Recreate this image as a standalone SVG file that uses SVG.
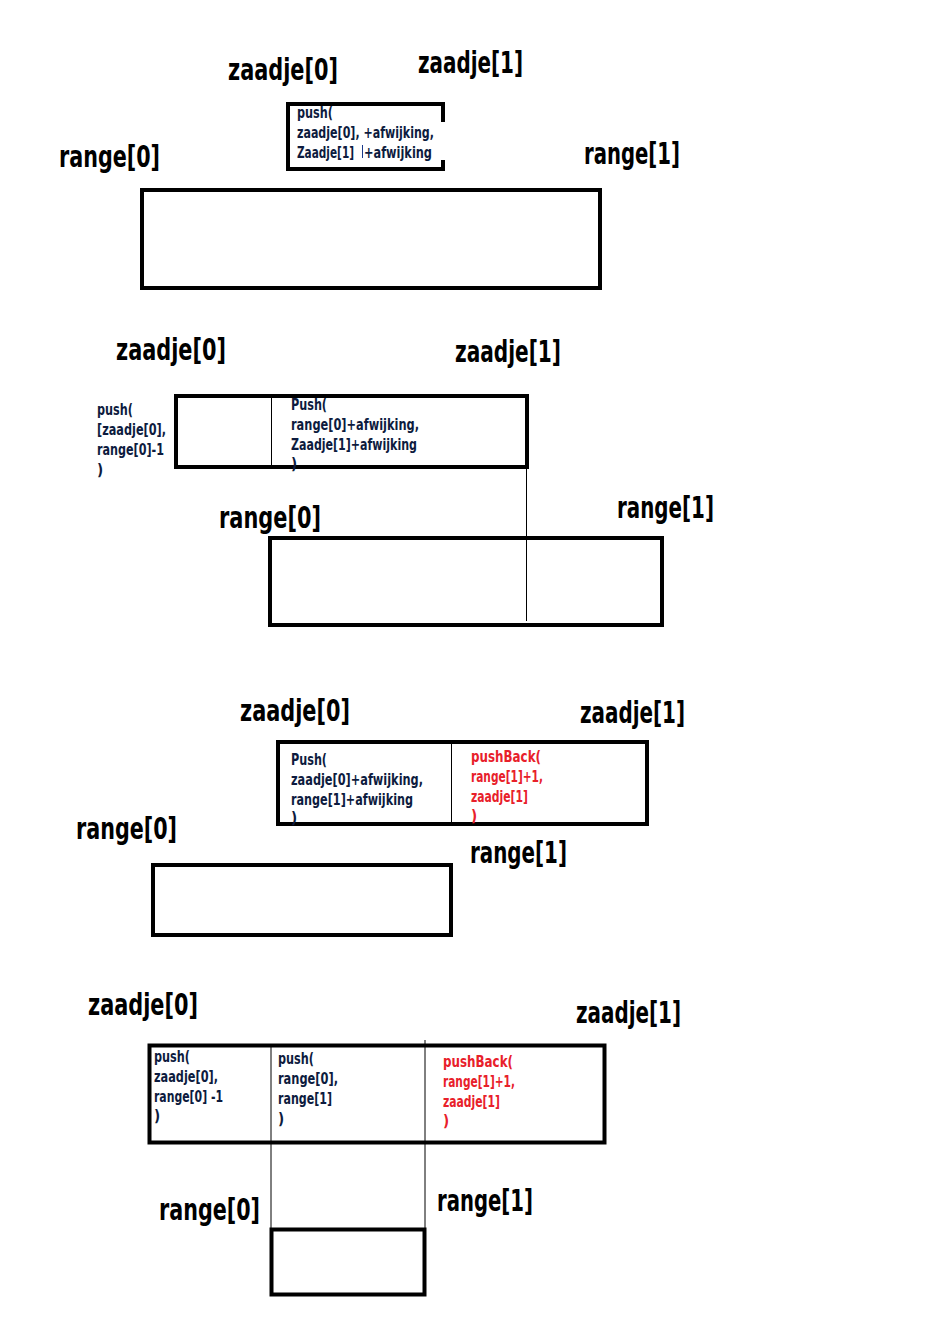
<svg xmlns="http://www.w3.org/2000/svg" width="926" height="1342" viewBox="0 0 926 1342">
<style>
.lbl{font-family:"Liberation Sans Narrow","DejaVu Sans Condensed","Liberation Sans",sans-serif;font-weight:bold;font-size:30px;fill:#000}
.sm{font-family:"Liberation Sans Narrow","DejaVu Sans Condensed","Liberation Sans",sans-serif;font-weight:bold;font-size:15px;fill:#0d1b3e}
.red{fill:#e8202a}
.box{fill:none;stroke:#000;stroke-width:4}
.thin{stroke:#000;stroke-width:1;fill:none}
</style>
<rect width="926" height="1342" fill="#fff"/>

<g id="section1">
  <text class="lbl" x="228" y="80" textLength="110" lengthAdjust="spacingAndGlyphs">zaadje[0]</text>
  <text class="lbl" x="418" y="73" textLength="105" lengthAdjust="spacingAndGlyphs">zaadje[1]</text>
  <text class="lbl" x="59" y="167" textLength="101" lengthAdjust="spacingAndGlyphs">range[0]</text>
  <text class="lbl" x="584" y="164" textLength="96" lengthAdjust="spacingAndGlyphs">range[1]</text>
  <g id="box1a">
    <path class="box" d="M443 122 V104 H288 V169 H443 V160"/>
    <text class="sm" x="297" y="118" textLength="36" lengthAdjust="spacingAndGlyphs">push(</text>
    <text class="sm" x="297" y="138" textLength="137" lengthAdjust="spacingAndGlyphs">zaadje[0], +afwijking,</text>
    <text class="sm" x="297" y="158" textLength="57" lengthAdjust="spacingAndGlyphs">Zaadje[1]</text>
    <line x1="362.5" y1="145" x2="362.5" y2="158" stroke="#1a3a8a" stroke-width="1"/>
    <text class="sm" x="364" y="158" textLength="68" lengthAdjust="spacingAndGlyphs">+afwijking</text>
  </g>
  <rect id="box1b" class="box" x="142" y="190" width="458" height="98"/>
</g>

<g id="section2">
  <text class="lbl" x="116" y="360" textLength="110" lengthAdjust="spacingAndGlyphs">zaadje[0]</text>
  <text class="lbl" x="455" y="362" textLength="106" lengthAdjust="spacingAndGlyphs">zaadje[1]</text>
  <g id="note2">
    <text class="sm" x="97" y="415" textLength="36" lengthAdjust="spacingAndGlyphs">push(</text>
    <text class="sm" x="97" y="435" textLength="69" lengthAdjust="spacingAndGlyphs">[zaadje[0],</text>
    <text class="sm" x="97" y="455" textLength="67" lengthAdjust="spacingAndGlyphs">range[0]-1</text>
    <text class="sm" x="97" y="475">)</text>
  </g>
  <g id="box2a">
    <rect class="box" x="176" y="396" width="351" height="71"/>
    <text class="sm" x="291" y="410" textLength="36" lengthAdjust="spacingAndGlyphs">Push(</text>
    <text class="sm" x="291" y="430" textLength="128" lengthAdjust="spacingAndGlyphs">range[0]+afwijking,</text>
    <text class="sm" x="291" y="450" textLength="126" lengthAdjust="spacingAndGlyphs">Zaadje[1]+afwijking</text>
    <text class="sm" x="291" y="469">)</text>
  </g>
  <text class="lbl" x="219" y="528" textLength="102" lengthAdjust="spacingAndGlyphs">range[0]</text>
  <text class="lbl" x="617" y="518" textLength="97" lengthAdjust="spacingAndGlyphs">range[1]</text>
  <rect id="box2b" class="box" x="270" y="538" width="392" height="87"/>
</g>

<g id="section3">
  <text class="lbl" x="240" y="721" textLength="110" lengthAdjust="spacingAndGlyphs">zaadje[0]</text>
  <text class="lbl" x="580" y="723" textLength="105" lengthAdjust="spacingAndGlyphs">zaadje[1]</text>
  <g id="box3a">
    <rect class="box" x="278" y="742" width="369" height="82"/>
    <text class="sm" x="291" y="765" textLength="36" lengthAdjust="spacingAndGlyphs">Push(</text>
    <text class="sm" x="291" y="785" textLength="132" lengthAdjust="spacingAndGlyphs">zaadje[0]+afwijking,</text>
    <text class="sm" x="291" y="805" textLength="122" lengthAdjust="spacingAndGlyphs">range[1]+afwijking</text>
    <text class="sm" x="291" y="823">)</text>
    <text class="sm red" x="471" y="762" textLength="70" lengthAdjust="spacingAndGlyphs">pushBack(</text>
    <text class="sm red" x="471" y="782" textLength="72" lengthAdjust="spacingAndGlyphs">range[1]+1,</text>
    <text class="sm red" x="471" y="802" textLength="57" lengthAdjust="spacingAndGlyphs">zaadje[1]</text>
    <text class="sm red" x="471" y="821">)</text>
  </g>
  <text class="lbl" x="76" y="839" textLength="101" lengthAdjust="spacingAndGlyphs">range[0]</text>
  <text class="lbl" x="470" y="863" textLength="97" lengthAdjust="spacingAndGlyphs">range[1]</text>
  <rect id="box3b" class="box" x="153" y="865" width="298" height="70"/>
</g>

<g id="section4">
  <text class="lbl" x="88" y="1015" textLength="110" lengthAdjust="spacingAndGlyphs">zaadje[0]</text>
  <text class="lbl" x="576" y="1023" textLength="105" lengthAdjust="spacingAndGlyphs">zaadje[1]</text>
  <g id="box4a">
    <rect class="box" x="149.5" y="1045.5" width="455" height="97" stroke-width="5"/>
    <text class="sm" x="154" y="1062" textLength="36" lengthAdjust="spacingAndGlyphs">push(</text>
    <text class="sm" x="154" y="1082" textLength="64" lengthAdjust="spacingAndGlyphs">zaadje[0],</text>
    <text class="sm" x="154" y="1102" textLength="69" lengthAdjust="spacingAndGlyphs">range[0] -1</text>
    <text class="sm" x="154" y="1121">)</text>
    <text class="sm" x="278" y="1064" textLength="36" lengthAdjust="spacingAndGlyphs">push(</text>
    <text class="sm" x="278" y="1084" textLength="60" lengthAdjust="spacingAndGlyphs">range[0],</text>
    <text class="sm" x="278" y="1104" textLength="54" lengthAdjust="spacingAndGlyphs">range[1]</text>
    <text class="sm" x="278" y="1124">)</text>
    <text class="sm red" x="443" y="1067" textLength="70" lengthAdjust="spacingAndGlyphs">pushBack(</text>
    <text class="sm red" x="443" y="1087" textLength="72" lengthAdjust="spacingAndGlyphs">range[1]+1,</text>
    <text class="sm red" x="443" y="1107" textLength="57" lengthAdjust="spacingAndGlyphs">zaadje[1]</text>
    <text class="sm red" x="443" y="1126">)</text>
  </g>
  <text class="lbl" x="159" y="1220" textLength="101" lengthAdjust="spacingAndGlyphs">range[0]</text>
  <text class="lbl" x="437" y="1211" textLength="96" lengthAdjust="spacingAndGlyphs">range[1]</text>
  <rect id="box4b" class="box" x="271.5" y="1229.5" width="153" height="65" stroke-width="5"/>
</g>

<g id="connectors">
  <line class="thin" x1="271.5" y1="398" x2="271.5" y2="467"/>
  <line class="thin" x1="526.5" y1="469" x2="526.5" y2="621"/>
  <line class="thin" x1="451.5" y1="743" x2="451.5" y2="823"/>
  <line class="thin" x1="271" y1="1046" x2="271" y2="1228"/>
  <line class="thin" x1="425" y1="1040" x2="425" y2="1228"/>
</g>
</svg>
